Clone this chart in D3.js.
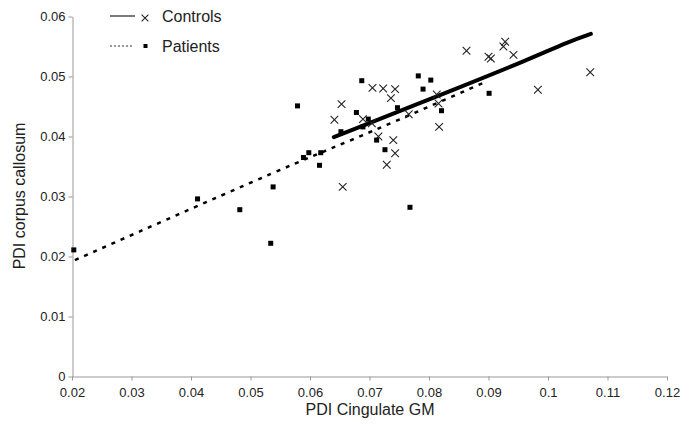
<!DOCTYPE html>
<html>
<head>
<meta charset="utf-8">
<script src="https://cdn.jsdelivr.net/npm/d3@7"></script>
<style>
  body { margin: 0; background: #fff; }
  text { font-family: "Liberation Sans", Arial, sans-serif; fill: #222; }
  .axis path, .axis line { stroke: #999; }
  .axis text { font-size: 13px; }
</style>
</head>
<body>
<svg width="692" height="441"></svg>
<script>
// controls (x markers)
var controlsX = [0.0641, 0.0653, 0.0655, 0.0689, 0.0704, 0.0705, 0.0715, 0.0723, 0.0729, 0.0736,
                 0.0740, 0.0743, 0.0743, 0.0766, 0.0813, 0.0816, 0.0817, 0.0863, 0.0900, 0.0904,
                 0.0925, 0.0928, 0.0942, 0.0983, 0.1071];
var controlsY = [0.0428, 0.0454, 0.0316, 0.0429, 0.0422, 0.0481, 0.0400, 0.0480, 0.0353, 0.0464,
                 0.0394, 0.0479, 0.0372, 0.0437, 0.0470, 0.0455, 0.0416, 0.0543, 0.0533, 0.0530,
                 0.0550, 0.0558, 0.0536, 0.0478, 0.0507];

// patients (square markers)
var patientsX = [0.0203, 0.0411, 0.0482, 0.0534, 0.0538, 0.0579, 0.0589, 0.0598, 0.0616, 0.0618,
                 0.0652, 0.0678, 0.0687, 0.0689, 0.0698, 0.0712, 0.0726, 0.0747, 0.0768, 0.0782,
                 0.0790, 0.0803, 0.0821, 0.0901];
var patientsY = [0.0211, 0.0296, 0.0278, 0.0222, 0.0316, 0.0451, 0.0365, 0.0373, 0.0352, 0.0373,
                 0.0408, 0.0440, 0.0493, 0.0416, 0.0429, 0.0394, 0.0378, 0.0448, 0.0282, 0.0501,
                 0.0479, 0.0494, 0.0443, 0.0472];

// trend lines
var controlsTrendX = [0.0640, 0.0852, 0.0964, 0.1037, 0.1072];
var controlsTrendY = [0.0399, 0.0482, 0.0527, 0.0559, 0.0571];
var patientsTrendX = [0.0205, 0.0410, 0.0583, 0.0690, 0.0895];
var patientsTrendY = [0.0194, 0.0284, 0.0359, 0.0402, 0.0491];

var xTicks = [0.02, 0.03, 0.04, 0.05, 0.06, 0.07, 0.08, 0.09, 0.1, 0.11, 0.12];
var yTicks = [0, 0.01, 0.02, 0.03, 0.04, 0.05, 0.06];

var svg = d3.select("svg");

var x = d3.scaleLinear().domain([0.02, 0.12]).range([72, 667]);
var y = d3.scaleLinear().domain([0, 0.06]).range([376.5, 16.5]);

var fmt = d => String(+d.toFixed(2));

svg.append("g")
   .attr("class", "axis")
   .attr("transform", "translate(0,376.5)")
   .call(d3.axisBottom(x).tickValues(xTicks).tickFormat(fmt).tickSize(4).tickSizeOuter(0).tickPadding(4))
   .call(g => g.selectAll("text").attr("dy", "0.95em"));

svg.append("g")
   .attr("class", "axis")
   .attr("transform", "translate(72.5,0)")
   .call(d3.axisLeft(y).tickValues(yTicks).tickFormat(fmt).tickSize(4).tickSizeOuter(0).tickPadding(3));

svg.selectAll(".axis text").attr("fill", "#222").style("font-size", "13px");

svg.append("text")
   .attr("x", 370)
   .attr("y", 415)
   .attr("text-anchor", "middle")
   .style("font-size", "16px")
   .text("PDI Cingulate GM");

svg.append("text")
   .attr("transform", "translate(25,196) rotate(-90)")
   .attr("text-anchor", "middle")
   .style("font-size", "16px")
   .text("PDI corpus callosum");

var line = d3.line().x(d => x(d[0])).y(d => y(d[1])).curve(d3.curveBasis);

svg.append("path")
   .datum(d3.zip(patientsTrendX, patientsTrendY))
   .attr("d", line)
   .attr("fill", "none")
   .attr("stroke", "#000")
   .attr("stroke-width", 2.5)
   .attr("stroke-dasharray", "4,6");

svg.append("path")
   .datum(d3.zip(controlsTrendX, controlsTrendY))
   .attr("d", line)
   .attr("fill", "none")
   .attr("stroke", "#000")
   .attr("stroke-width", 4)
   .attr("stroke-linecap", "round");

var cross = d3.symbol().type(d3.symbolX).size(40);

svg.append("g")
   .selectAll("path")
   .data(d3.zip(controlsX, controlsY))
   .enter().append("path")
   .attr("d", cross)
   .attr("transform", d => `translate(${x(d[0])},${y(d[1])})`)
   .attr("fill", "none")
   .attr("stroke", "#222")
   .attr("stroke-width", 1.1);

svg.append("g")
   .selectAll("rect")
   .data(d3.zip(patientsX, patientsY))
   .enter().append("rect")
   .attr("x", d => x(d[0]) - 2.5)
   .attr("y", d => y(d[1]) - 2.5)
   .attr("width", 5)
   .attr("height", 5)
   .attr("fill", "#000");

// legend
var legend = svg.append("g");
legend.append("line")
      .attr("x1", 110).attr("x2", 135).attr("y1", 16).attr("y2", 16)
      .attr("stroke", "#222").attr("stroke-width", 1.2);
legend.append("path")
      .attr("d", d3.symbol().type(d3.symbolX).size(32))
      .attr("transform", "translate(145,18)")
      .attr("fill", "none").attr("stroke", "#222").attr("stroke-width", 1.1);
legend.append("text").attr("x", 162).attr("y", 22).style("font-size", "16px").text("Controls");

legend.append("line")
      .attr("x1", 110).attr("x2", 133).attr("y1", 46).attr("y2", 46)
      .attr("stroke", "#333").attr("stroke-width", 1.2).attr("stroke-dasharray", "2,2");
legend.append("rect")
      .attr("x", 143.5).attr("y", 44).attr("width", 4).attr("height", 4).attr("fill", "#000");
legend.append("text").attr("x", 162).attr("y", 52).style("font-size", "16px").text("Patients");
</script>
</body>
</html>
